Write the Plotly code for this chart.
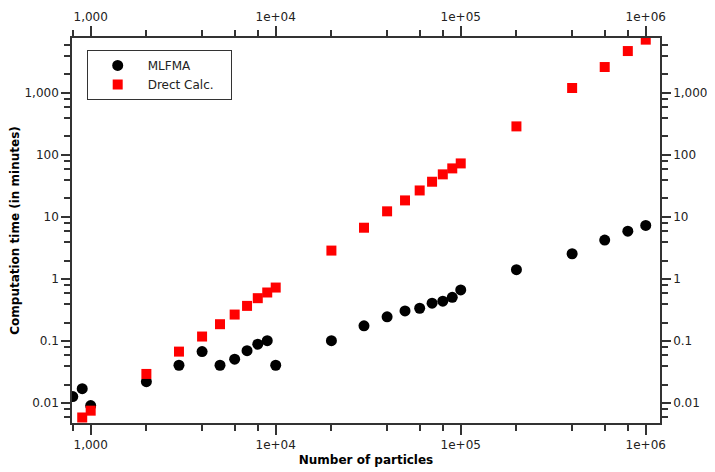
import plotly.graph_objects as go

# Data
mlfma_n = [800, 900, 1000, 2000, 3000, 4000, 5000, 6000, 7000, 8000, 9000, 10000,
           20000, 30000, 40000, 50000, 60000, 70000, 80000, 90000, 100000,
           200000, 400000, 600000, 800000, 1000000]
mlfma_t = [0.0128, 0.0172, 0.0092, 0.0223, 0.041, 0.068, 0.041, 0.0513, 0.0705, 0.0895, 0.102, 0.041,
           0.102, 0.177, 0.247, 0.308, 0.340, 0.41, 0.442, 0.51, 0.67,
           1.42, 2.57, 4.26, 5.94, 7.35]

direct_n = [900, 1000, 2000, 3000, 4000, 5000, 6000, 7000, 8000, 9000, 10000,
            20000, 30000, 40000, 50000, 60000, 70000, 80000, 90000, 100000,
            200000, 400000, 600000, 800000, 1000000]
direct_t = [0.0059, 0.0076, 0.0297, 0.068, 0.119, 0.188, 0.269, 0.371, 0.494, 0.61, 0.733,
            2.89, 6.75, 12.4, 18.6, 26.9, 37.2, 48.9, 61, 73.4,
            290, 1205, 2625, 4750, 7250]

x_tickvals = [1000, 10000, 100000, 1000000]
x_ticktext = ["1,000", "1e+04", "1e+05", "1e+06"]
y_tickvals = [0.01, 0.1, 1, 10, 100, 1000]
y_ticktext = ["0.01", "0.1", "1", "10", "100", "1,000"]

x_minor = [m * 10 ** e for e in range(2, 7) for m in (2, 4, 6, 8)]
y_minor = [m * 10 ** e for e in range(-3, 4) for m in (2, 4, 6, 8)]

x_range = [2.899, 6.077]
y_range = [-2.318, 3.887]

axcol = "#333333"
font = dict(family="DejaVu Sans", size=12, color="#222222")

fig = go.Figure()
fig.add_trace(go.Scatter(x=mlfma_n, y=mlfma_t, mode="markers", name="MLFMA",
                         marker=dict(symbol="circle", size=11, color="black")))
fig.add_trace(go.Scatter(x=direct_n, y=direct_t, mode="markers", name="Drect Calc.   ",
                         marker=dict(symbol="square", size=10, color="#ff0000")))
fig.add_trace(go.Scatter(x=[1000], y=[1], xaxis="x2", yaxis="y2", mode="markers",
                         marker=dict(opacity=0), showlegend=False, hoverinfo="skip"))

common_x = dict(type="log", range=x_range, tickmode="array", tickvals=x_tickvals,
                ticktext=x_ticktext, ticks="outside", ticklen=10, tickwidth=1.5,
                tickcolor=axcol, showline=True, linecolor=axcol, linewidth=1.5,
                showgrid=False, zeroline=False, tickfont=font, automargin=False,
                minor=dict(tickvals=x_minor, ticks="outside", ticklen=6,
                           tickwidth=1.5, tickcolor=axcol, showgrid=False))
common_y = dict(type="log", range=y_range, tickmode="array", tickvals=y_tickvals,
                ticktext=y_ticktext, ticks="outside", ticklen=9, tickwidth=1.5,
                tickcolor=axcol, showline=True, linecolor=axcol, linewidth=1.5,
                showgrid=False, zeroline=False, tickfont=font, automargin=False,
                minor=dict(tickvals=y_minor, ticks="outside", ticklen=6,
                           tickwidth=1.5, tickcolor=axcol, showgrid=False))

fig.update_layout(
    width=707, height=464,
    margin=dict(l=64, r=55, t=30, b=49),
    paper_bgcolor="white", plot_bgcolor="white",
    font=font,
    xaxis=dict(**common_x, side="bottom",
               title=dict(text="<b>Number of particles</b>", standoff=4,
                          font=dict(family="DejaVu Sans", size=12, color="black"))),
    xaxis2=dict(**common_x, side="top", overlaying="x"),
    yaxis=dict(**common_y, side="left",
               title=dict(text="<b>Computation time (in minutes)</b>", standoff=6,
                          font=dict(family="DejaVu Sans", size=12, color="black"))),
    yaxis2=dict(**common_y, side="right", overlaying="y"),
    legend=dict(x=0.025, y=0.969, xanchor="left", yanchor="top",
                bordercolor=axcol, borderwidth=1, bgcolor="white",
                font=dict(family="DejaVu Sans", size=12, color="#222222"),
                itemwidth=50, tracegroupgap=0),
    showlegend=True,
)

fig.write_html("out.html")
